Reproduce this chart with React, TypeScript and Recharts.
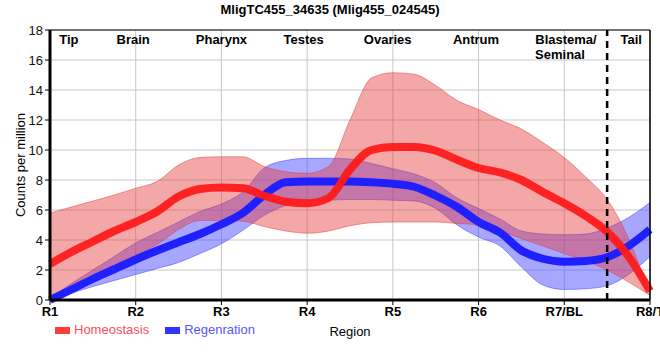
import React from "react";
import {
  ComposedChart,
  Area,
  Line,
  XAxis,
  YAxis,
  CartesianGrid,
  ReferenceLine,
  ReferenceDot,
  Legend,
} from "recharts";

const FONT = "'Liberation Sans', Arial, sans-serif";

// x positions along the body axis (R1 = 0 ... R8 = 7)
const positions = [
  0, 0.25, 0.5, 0.75, 1, 1.25, 1.5, 1.75, 2, 2.25, 2.5, 2.75, 3, 3.25, 3.5,
  3.75, 4, 4.25, 4.5, 4.75, 5, 5.25, 5.5, 5.75, 6, 6.25, 6.5, 6.75, 7,
];
const xTickLabels = ["R1", "R2", "R3", "R4", "R5", "R6", "R7/BL", "R8/T"];
const xTicks = [0, 1, 2, 3, 4, 5, 6, 7];
const yTicks = [0, 2, 4, 6, 8, 10, 12, 14, 16, 18];

// Homeostasis
const homMean = [
  2.4, 3.2, 3.9, 4.6, 5.2, 5.9, 6.9, 7.4, 7.5, 7.45, 6.95, 6.55, 6.45, 6.8, 8.7,
  10.0, 10.2, 10.2, 9.95, 9.35, 8.8, 8.5, 8.0, 7.2, 6.45, 5.6, 4.55, 2.9, 0.6,
];
const homHigh = [
  5.8, 6.2, 6.6, 7.0, 7.45, 7.9, 9.0, 9.5, 9.55, 9.55, 8.9, 8.55, 8.45, 8.9,
  12.0, 14.8, 15.15, 15.05, 14.3, 13.3, 12.7, 12.0, 11.4, 10.5, 9.5, 8.2, 6.7,
  4.1, 0.3,
];
const homLow = [
  0.1, 0.8, 1.5, 2.3, 3.0, 3.7, 4.7, 5.3, 5.3, 5.25, 4.9, 4.6, 4.45, 4.6, 4.95,
  5.15, 5.2, 5.2, 5.2, 5.1, 5.0, 4.6, 4.1, 3.6, 3.1, 2.6, 2.0, 1.2, 0.3,
];

// Regeneration
const regMean = [
  0, 0.7, 1.4, 2.05, 2.7, 3.3, 3.85, 4.4, 5.05, 5.8, 7.0, 7.85, 7.9, 7.9, 7.9,
  7.85, 7.75, 7.55, 6.95, 6.2, 5.2, 4.5, 3.3, 2.75, 2.55, 2.6, 2.85, 3.6, 4.7,
];
const regHigh = [
  0.1, 1.1, 2.0, 2.9, 3.8, 4.5, 5.2, 5.9, 6.4, 7.2, 8.8, 9.3, 9.45, 9.45, 9.4,
  9.1, 8.75, 8.4, 7.8, 6.8, 6.1, 5.4, 4.6, 4.4, 4.35, 4.4, 4.8, 5.5, 6.5,
];
const regLow = [
  0, 0.45, 0.9, 1.3, 1.7, 2.1, 2.5, 3.1, 3.75, 4.65, 5.65, 6.3, 6.55, 6.65, 6.7,
  6.7, 6.65, 6.6, 6.1, 5.0, 4.2, 3.6, 2.2, 1.0, 0.7, 0.75, 0.95, 1.7, 2.9,
];

// tissue names written across the top of the plot
const regionNames = ["Tip", "Brain", "Pharynx", "Testes", "Ovaries", "Antrum", "Blastema/", "Seminal", "Tail"];
const regionPos = [0.22, 0.97, 2.0, 2.96, 3.94, 4.97, 6.02, 5.95, 6.78];
const regionLevel = [17.35, 17.35, 17.35, 17.35, 17.35, 17.35, 17.35, 16.4, 17.35];

const legendNames = ["Homeostasis", "Regenration"];
const legendColors = ["#ff3b3b", "#3333ff"];
const legendText = ["#ff4d5e", "#5555ff"];

function LegendBox() {
  return (
    <div style={{ display: "flex", fontFamily: FONT, fontSize: 13, height: 16, lineHeight: "16px" }}>
      {legendNames.map((name, i) => (
        <div key={name} style={{ display: "flex", alignItems: "center", marginRight: 16 }}>
          <span style={{ display: "inline-block", width: 15, height: 7, background: legendColors[i], marginRight: 4 }} />
          <span style={{ color: legendText[i] }}>{name}</span>
        </div>
      ))}
    </div>
  );
}

export default function App() {
  const data = positions.map((pos, i) => ({
    pos,
    hom: homMean[i],
    homBand: [homLow[i], homHigh[i]],
    reg: regMean[i],
    regBand: [regLow[i], regHigh[i]],
  }));

  return (
    <div style={{ position: "absolute", left: 0, top: 0, width: 660, height: 360, background: "#fff", fontFamily: FONT }}>
      <div style={{ position: "absolute", top: 2, left: 0, width: 660, textAlign: "center", fontWeight: "bold", fontSize: 13, lineHeight: "15px" }}>
        MligTC455_34635 (Mlig455_024545)
      </div>
      <ComposedChart width={660} height={360} data={data} margin={{ top: 30, right: 10, bottom: 4, left: 10 }}>
        <CartesianGrid stroke="#c8c8c8" />
        <XAxis
          dataKey="pos"
          type="number"
          domain={[0, 7]}
          ticks={xTicks}
          interval={0}
          tickFormatter={(v: number) => xTickLabels[v]}
          height={40}
          tick={{ fontSize: 13, fontWeight: "bold", fill: "#000", fontFamily: FONT }}
          axisLine={{ stroke: "#000", strokeWidth: 3 }}
          tickLine={{ stroke: "#000" }}
          tickSize={5}
          label={{ value: "Region", position: "insideBottom", offset: 4, style: { fontSize: 13, fill: "#000", fontFamily: FONT } }}
        />
        <YAxis
          domain={[0, 18]}
          ticks={yTicks}
          width={40}
          tick={{ fontSize: 13, fill: "#111", fontFamily: FONT }}
          axisLine={{ stroke: "#000", strokeWidth: 3 }}
          tickLine={{ stroke: "#000" }}
          tickSize={5}
          label={{
            value: "Counts per million",
            angle: -90,
            position: "insideLeft",
            offset: 10,
            style: { textAnchor: "middle", fontSize: 13, fill: "#000", fontFamily: FONT },
          }}
        />
        <Area
          dataKey="regBand"
          type="monotone"
          fill="rgb(60,60,255)"
          fillOpacity={0.45}
          stroke="rgba(60,60,255,0.5)"
          strokeWidth={1}
          isAnimationActive={false}
          legendType="none"
        />
        <Line dataKey="reg" type="monotone" stroke="#2020ff" strokeWidth={8} dot={false} isAnimationActive={false} />
        <Area
          dataKey="homBand"
          type="monotone"
          fill="rgb(230,60,60)"
          fillOpacity={0.45}
          stroke="rgba(230,60,60,0.5)"
          strokeWidth={1}
          isAnimationActive={false}
          legendType="none"
        />
        <Line dataKey="hom" type="monotone" stroke="#ff1a1a" strokeOpacity={0.95} strokeWidth={8} dot={false} isAnimationActive={false} />
        <ReferenceLine x={6.5} stroke="#000" strokeWidth={2.5} strokeDasharray="7 5" />
        <ReferenceLine y={18} stroke="#000" strokeWidth={1} />
        <ReferenceLine x={7} stroke="#000" strokeWidth={1.5} />
        {regionNames.map((name, i) => (
          <ReferenceDot
            key={name}
            x={regionPos[i]}
            y={regionLevel[i]}
            r={0}
            fill="none"
            stroke="none"
            label={{
              value: name,
              position: "center",
              style: { fontSize: 13, fontWeight: "bold", fill: "#000", fontFamily: FONT },
            }}
          />
        ))}
        <Legend verticalAlign="bottom" align="left" wrapperStyle={{ left: 55, top: 322 }} content={() => <LegendBox />} />
      </ComposedChart>
    </div>
  );
}
